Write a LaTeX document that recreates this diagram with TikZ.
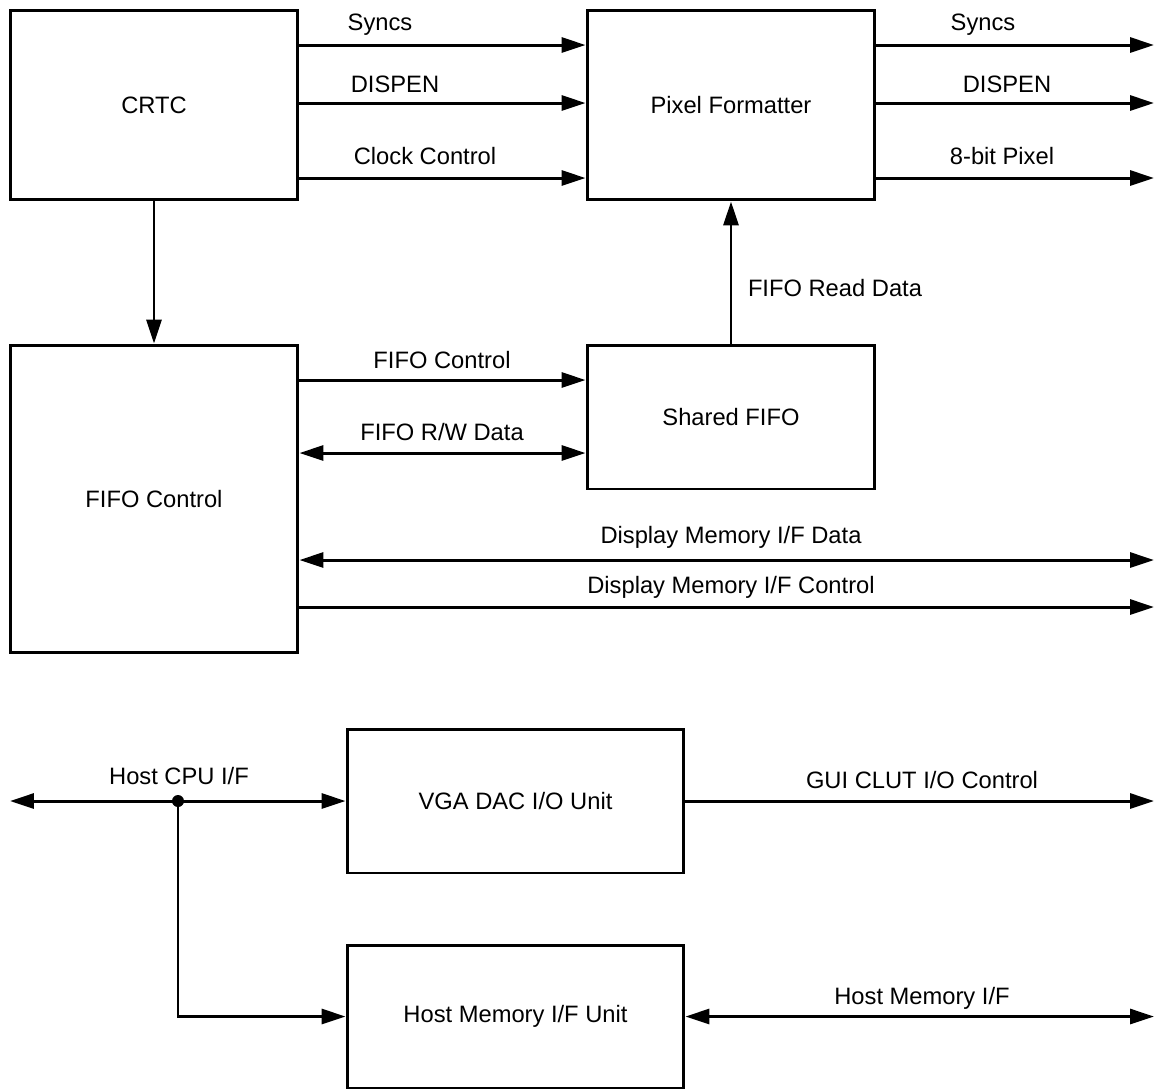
\documentclass[tikz,border=0pt]{standalone}
\usepackage{fontspec}
\setmainfont{Liberation Sans}
\usetikzlibrary{arrows.meta}
\tikzset{
  unit/.style={draw, line width=1.7pt, inner sep=0pt, font=\fontsize{13.5}{16}\selectfont},
  sig/.style={line width=1.7pt, -{Triangle[length=0.48cm,width=0.3cm]}},
  bisig/.style={line width=1.7pt, {Triangle[length=0.48cm,width=0.3cm]}-{Triangle[length=0.48cm,width=0.3cm]}},
  lbl/.style={font=\fontsize{13.5}{16}\selectfont, inner sep=0pt},
}
\begin{document}
\begin{tikzpicture}[x=0.02cm,y=-0.02cm]
  \useasboundingbox (0,0) rectangle (1154,1090);

  % blocks
  \node[unit, minimum width=5.76cm, minimum height=3.8cm] (crtc) at (154,105) {CRTC};
  \node[unit, minimum width=5.76cm, minimum height=3.8cm] (pixfmt) at (731,105) {Pixel Formatter};
  \node[unit, minimum width=5.76cm, minimum height=6.16cm] (fifoctl) at (154,499) {FIFO Control};
  \node[unit, minimum width=5.76cm, minimum height=2.88cm] (sfifo) at (731,417) {Shared FIFO};
  \node[unit, minimum width=6.74cm, minimum height=2.88cm] (vgadac) at (515.5,801) {VGA DAC I/O Unit};
  \node[unit, minimum width=6.74cm, minimum height=2.86cm] (hostmem) at (515.5,1016.5) {Host Memory I/F Unit};

  % free ends
  \coordinate (syncout) at (1154,45);
  \coordinate (dispout) at (1154,103);
  \coordinate (pixout) at (1154,178);
  \coordinate (dmdata) at (1154,560);
  \coordinate (dmctl) at (1154,607);
  \coordinate (clutout) at (1154,801);
  \coordinate (hmout) at (1154,1016.5);
  \coordinate (cpuin) at (10,801);
  \node[circle, fill, inner sep=0pt, minimum size=0.24cm] (jn) at (178,801) {};

  % crtc -> pixel formatter
  \draw[sig] (crtc.east |- syncout) -- (pixfmt.west |- syncout);
  \draw[sig] (crtc.east |- dispout) -- (pixfmt.west |- dispout);
  \draw[sig] (crtc.east |- pixout) -- (pixfmt.west |- pixout);
  \node[lbl] (l1) at (380,25) {Syncs};
  \node[lbl] (l2) at (395,84) {DISPEN};
  \node[lbl] (l3) at (425,156) {Clock Control};

  % pixel formatter outputs
  \draw[sig] (pixfmt.east |- syncout) -- (syncout);
  \draw[sig] (pixfmt.east |- dispout) -- (dispout);
  \draw[sig] (pixfmt.east |- pixout) -- (pixout);
  \node[lbl] (l4) at (983,25) {Syncs};
  \node[lbl] (l5) at (1007,84) {DISPEN};
  \node[lbl] (l6) at (1002,156) {8-bit Pixel};

  % fifo
  \draw[sig] (crtc.south) -- (fifoctl.north);
  \draw[sig] (sfifo.north) -- (pixfmt.south);
  \node[lbl] (l7) at (835,288) {FIFO Read Data};
  \draw[sig] (fifoctl.east |- 0,380) -- (sfifo.west |- 0,380);
  \draw[bisig] (fifoctl.east |- 0,453) -- (sfifo.west |- 0,453);
  \node[lbl] (l8) at (442,360) {FIFO Control};
  \node[lbl] (l9) at (442,432) {FIFO R/W Data};

  % display memory
  \draw[bisig] (fifoctl.east |- dmdata) -- (dmdata);
  \draw[sig] (fifoctl.east |- dmctl) -- (dmctl);
  \node[lbl] (l10) at (731,537) {Display Memory I/F Data};
  \node[lbl] (l11) at (731,587) {Display Memory I/F Control};

  % host side
  \draw[bisig] (cpuin) -- (vgadac.west);
  \draw[sig] (jn.center) |- (hostmem.west);
  \node[lbl] (l12) at (179,776) {Host CPU I/F};
  \draw[sig] (vgadac.east) -- (clutout);
  \node[lbl] (l13) at (922,780) {GUI CLUT I/O Control};
  \draw[bisig] (hostmem.east) -- (hmout);
  \node[lbl] (l14) at (922,998) {Host Memory I/F};
\end{tikzpicture}
\end{document}
